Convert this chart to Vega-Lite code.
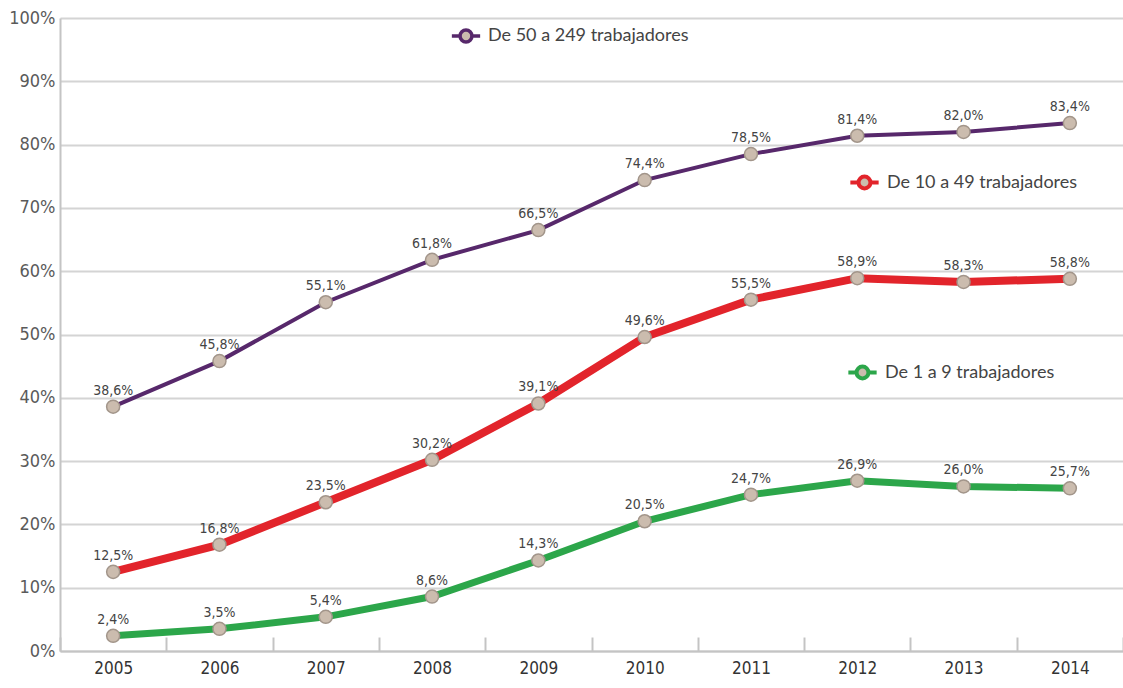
{
  "$schema": "https://vega.github.io/schema/vega-lite/v6.json",
  "autosize": {"type": "none"},
  "width": 1063,
  "height": 633,
  "padding": {"left": 60, "top": 18, "right": 0, "bottom": 37},
  "background": "#ffffff",
  "config": {
    "locale": {
      "number": {"decimal": ",", "thousands": ".", "grouping": [3], "currency": ["", " €"]}
    },
    "view": {"stroke": null},
    "font": "DejaVu Sans Condensed"
  },
  "data": {
    "values": [
      {"year": "2005", "serie": "De 50 a 249 trabajadores", "pct": 0.386},
      {"year": "2006", "serie": "De 50 a 249 trabajadores", "pct": 0.458},
      {"year": "2007", "serie": "De 50 a 249 trabajadores", "pct": 0.551},
      {"year": "2008", "serie": "De 50 a 249 trabajadores", "pct": 0.618},
      {"year": "2009", "serie": "De 50 a 249 trabajadores", "pct": 0.665},
      {"year": "2010", "serie": "De 50 a 249 trabajadores", "pct": 0.744},
      {"year": "2011", "serie": "De 50 a 249 trabajadores", "pct": 0.785},
      {"year": "2012", "serie": "De 50 a 249 trabajadores", "pct": 0.814},
      {"year": "2013", "serie": "De 50 a 249 trabajadores", "pct": 0.820},
      {"year": "2014", "serie": "De 50 a 249 trabajadores", "pct": 0.834},
      {"year": "2005", "serie": "De 10 a 49 trabajadores", "pct": 0.125},
      {"year": "2006", "serie": "De 10 a 49 trabajadores", "pct": 0.168},
      {"year": "2007", "serie": "De 10 a 49 trabajadores", "pct": 0.235},
      {"year": "2008", "serie": "De 10 a 49 trabajadores", "pct": 0.302},
      {"year": "2009", "serie": "De 10 a 49 trabajadores", "pct": 0.391},
      {"year": "2010", "serie": "De 10 a 49 trabajadores", "pct": 0.496},
      {"year": "2011", "serie": "De 10 a 49 trabajadores", "pct": 0.555},
      {"year": "2012", "serie": "De 10 a 49 trabajadores", "pct": 0.589},
      {"year": "2013", "serie": "De 10 a 49 trabajadores", "pct": 0.583},
      {"year": "2014", "serie": "De 10 a 49 trabajadores", "pct": 0.588},
      {"year": "2005", "serie": "De 1 a 9 trabajadores", "pct": 0.024},
      {"year": "2006", "serie": "De 1 a 9 trabajadores", "pct": 0.035},
      {"year": "2007", "serie": "De 1 a 9 trabajadores", "pct": 0.054},
      {"year": "2008", "serie": "De 1 a 9 trabajadores", "pct": 0.086},
      {"year": "2009", "serie": "De 1 a 9 trabajadores", "pct": 0.143},
      {"year": "2010", "serie": "De 1 a 9 trabajadores", "pct": 0.205},
      {"year": "2011", "serie": "De 1 a 9 trabajadores", "pct": 0.247},
      {"year": "2012", "serie": "De 1 a 9 trabajadores", "pct": 0.269},
      {"year": "2013", "serie": "De 1 a 9 trabajadores", "pct": 0.260},
      {"year": "2014", "serie": "De 1 a 9 trabajadores", "pct": 0.257}
    ]
  },
  "encoding": {
    "x": {
      "field": "year",
      "type": "ordinal",
      "title": null,
      "scale": {"type": "band", "paddingInner": 0, "paddingOuter": 0},
      "axis": {
        "tickBand": "extent",
        "labelAngle": 0,
        "labelFontSize": 17,
        "labelColor": "#333333",
        "labelPadding": 23,
        "tickSize": -14,
        "tickColor": "#c4c4c4",
        "tickWidth": 2,
        "domainColor": "#c4c4c4",
        "domainWidth": 2,
        "grid": false
      }
    },
    "y": {
      "field": "pct",
      "type": "quantitative",
      "title": null,
      "scale": {"domain": [0, 1], "nice": false},
      "axis": {
        "format": ".0%",
        "values": [0, 0.1, 0.2, 0.3, 0.4, 0.5, 0.6, 0.7, 0.8, 0.9, 1],
        "ticks": false,
        "labelPadding": 5,
        "labelFontSize": 18,
        "labelColor": "#5a5a5a",
        "domainColor": "#c4c4c4",
        "domainWidth": 2,
        "gridColor": "#d4d4d4",
        "gridWidth": 2
      }
    }
  },
  "layer": [
    {
      "transform": [{"filter": "datum.serie === 'De 50 a 249 trabajadores'"}],
      "mark": {"type": "line", "strokeWidth": 4},
      "encoding": {
        "color": {
          "field": "serie",
          "type": "nominal",
          "scale": {"domain": ["De 50 a 249 trabajadores"], "range": ["#57286b"]},
          "legend": {
            "title": null,
            "orient": "none",
            "legendX": 390,
            "legendY": 2,
            "symbolType": "M-1,0H-0.42M0.42,0H1M-0.42,0A0.42,0.42 0 1,1 0.42,0A0.42,0.42 0 1,1 -0.42,0Z",
            "symbolSize": 800,
            "symbolStrokeWidth": 3.5,
            "labelFontSize": 18,
            "labelFont": "Lato",
            "labelColor": "#444444",
            "labelOffset": 6,
            "labelLimit": 400,
            "encode": {"symbols": {"update": {"fill": {"value": "#cbbcae"}}}}
          }
        }
      }
    },
    {
      "transform": [{"filter": "datum.serie === 'De 10 a 49 trabajadores'"}],
      "mark": {"type": "line", "strokeWidth": 8},
      "encoding": {
        "color": {
          "field": "serie",
          "type": "nominal",
          "scale": {"domain": ["De 10 a 49 trabajadores"], "range": ["#e2242b"]},
          "legend": {
            "title": null,
            "orient": "none",
            "legendX": 788,
            "legendY": 148,
            "symbolType": "M-1,0H-0.42M0.42,0H1M-0.42,0A0.42,0.42 0 1,1 0.42,0A0.42,0.42 0 1,1 -0.42,0Z",
            "symbolSize": 800,
            "symbolStrokeWidth": 4,
            "labelFontSize": 18,
            "labelFont": "Lato",
            "labelColor": "#444444",
            "labelOffset": 6,
            "labelLimit": 400,
            "encode": {"symbols": {"update": {"fill": {"value": "#cbbcae"}}}}
          }
        }
      }
    },
    {
      "transform": [{"filter": "datum.serie === 'De 1 a 9 trabajadores'"}],
      "mark": {"type": "line", "strokeWidth": 7},
      "encoding": {
        "color": {
          "field": "serie",
          "type": "nominal",
          "scale": {"domain": ["De 1 a 9 trabajadores"], "range": ["#2ca64a"]},
          "legend": {
            "title": null,
            "orient": "none",
            "legendX": 786,
            "legendY": 338,
            "symbolType": "M-1,0H-0.42M0.42,0H1M-0.42,0A0.42,0.42 0 1,1 0.42,0A0.42,0.42 0 1,1 -0.42,0Z",
            "symbolSize": 800,
            "symbolStrokeWidth": 4,
            "labelFontSize": 18,
            "labelFont": "Lato",
            "labelColor": "#444444",
            "labelOffset": 6,
            "labelLimit": 400,
            "encode": {"symbols": {"update": {"fill": {"value": "#cbbcae"}}}}
          }
        }
      }
    },
    {
      "mark": {"type": "point", "filled": true, "fill": "#cbbcae", "stroke": "#a2958a", "strokeWidth": 1.5, "size": 170, "opacity": 1}
    },
    {
      "mark": {"type": "text", "baseline": "bottom", "dy": -9, "fontSize": 14, "color": "#444444"},
      "encoding": {
        "text": {"field": "pct", "type": "quantitative", "format": ".1%"}
      }
    }
  ],
  "resolve": {"scale": {"color": "independent"}}
}
